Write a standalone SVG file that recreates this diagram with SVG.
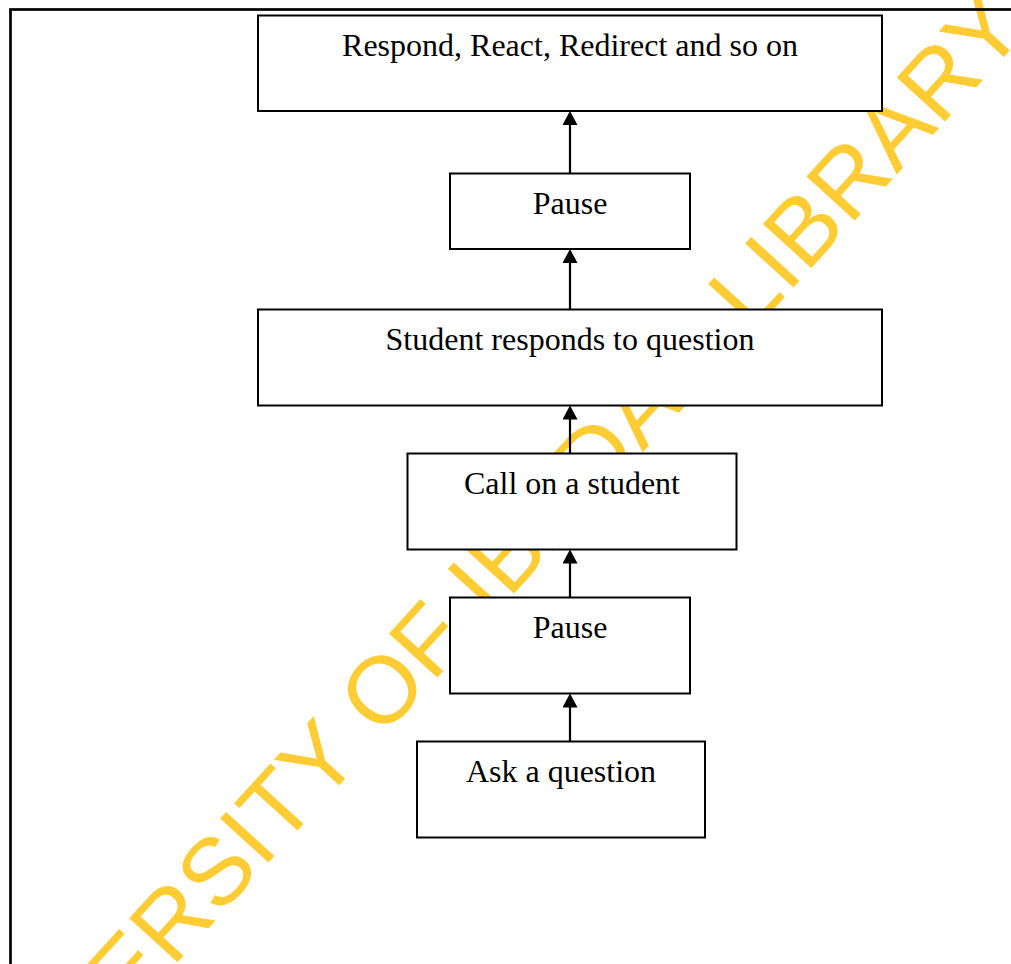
<svg xmlns="http://www.w3.org/2000/svg" width="1011" height="964" viewBox="0 0 1011 964">
  <style>
    .box { fill: #ffffff; stroke: #000000; stroke-width: 2; }
    .lbl { font-family: "Liberation Serif", "Times New Roman", serif; font-size: 32px; fill: #000000; text-anchor: middle; }
    .conn { stroke: #000000; stroke-width: 2.2; fill: none; marker-end: url(#ah); }
    .wm { font-family: "Liberation Sans", Arial, sans-serif; font-size: 95px; fill: #FFCC33; letter-spacing: 1px; }
  </style>
  <defs>
    <marker id="ah" markerWidth="15" markerHeight="16" refX="8" refY="7.5" orient="auto" markerUnits="userSpaceOnUse">
      <path d="M0,0 L14,7.5 L0,15 z" fill="#000000"/>
    </marker>
  </defs>
  <rect x="0" y="0" width="1011" height="964" fill="#ffffff"/>
  <g id="watermark">
    <text class="wm" transform="translate(-27,1186) rotate(-47.6)">UNIVERSITY OF IBADAN LIBRARY</text>
  </g>
  <rect id="frame" x="10.5" y="9.5" width="1100" height="1000" fill="none" stroke="#000000" stroke-width="2.7"/>
  <g id="connectors">
    <line class="conn" x1="570" y1="741.5" x2="570" y2="699.5"/>
    <line class="conn" x1="570" y1="597.5" x2="570" y2="555.5"/>
    <line class="conn" x1="570" y1="453.5" x2="570" y2="411.5"/>
    <line class="conn" x1="570" y1="309.5" x2="570" y2="255"/>
    <line class="conn" x1="570" y1="173.5" x2="570" y2="117"/>
  </g>
  <g id="n-respond">
    <rect class="box" x="258" y="15.5" width="624" height="95.5"/>
    <text class="lbl" x="570" y="56">Respond, React, Redirect and so on</text>
  </g>
  <g id="n-pause1">
    <rect class="box" x="450" y="173.5" width="240" height="75.5"/>
    <text class="lbl" x="570" y="213.5">Pause</text>
  </g>
  <g id="n-student">
    <rect class="box" x="258" y="309.5" width="624" height="96"/>
    <text class="lbl" x="570" y="350">Student responds to question</text>
  </g>
  <g id="n-call">
    <rect class="box" x="407.5" y="453.5" width="329" height="96"/>
    <text class="lbl" x="572" y="494.3">Call on a student</text>
  </g>
  <g id="n-pause2">
    <rect class="box" x="450" y="597.5" width="240" height="96"/>
    <text class="lbl" x="570" y="638.3">Pause</text>
  </g>
  <g id="n-ask">
    <rect class="box" x="417" y="741.5" width="288" height="96"/>
    <text class="lbl" x="561" y="781.7">Ask a question</text>
  </g>
</svg>
